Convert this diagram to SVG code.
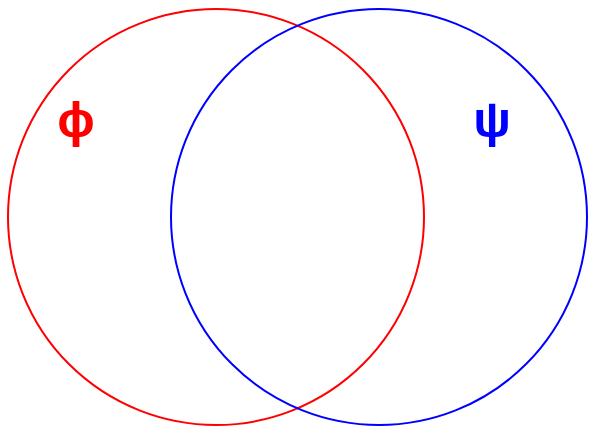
<svg xmlns="http://www.w3.org/2000/svg" width="589" height="427" viewBox="0 0 589 427">
<style>
.c{fill:none;stroke-width:2}
.t{font-family:"Liberation Sans",Arial,sans-serif;font-weight:bold;font-size:50px;text-anchor:middle}
</style>
<rect width="589" height="427" fill="#fff"/>
<g id="connectors"></g>
<g id="phi">
<circle class="c" cx="216" cy="217" r="208" stroke="#ff0000"/>
<text class="t" x="76" y="137" fill="#ff0000">ϕ</text>
</g>
<g id="psi">
<circle class="c" cx="379" cy="217" r="208" stroke="#0000ff"/>
<text class="t" x="492" y="137" fill="#0000ff">ψ</text>
</g>
</svg>
